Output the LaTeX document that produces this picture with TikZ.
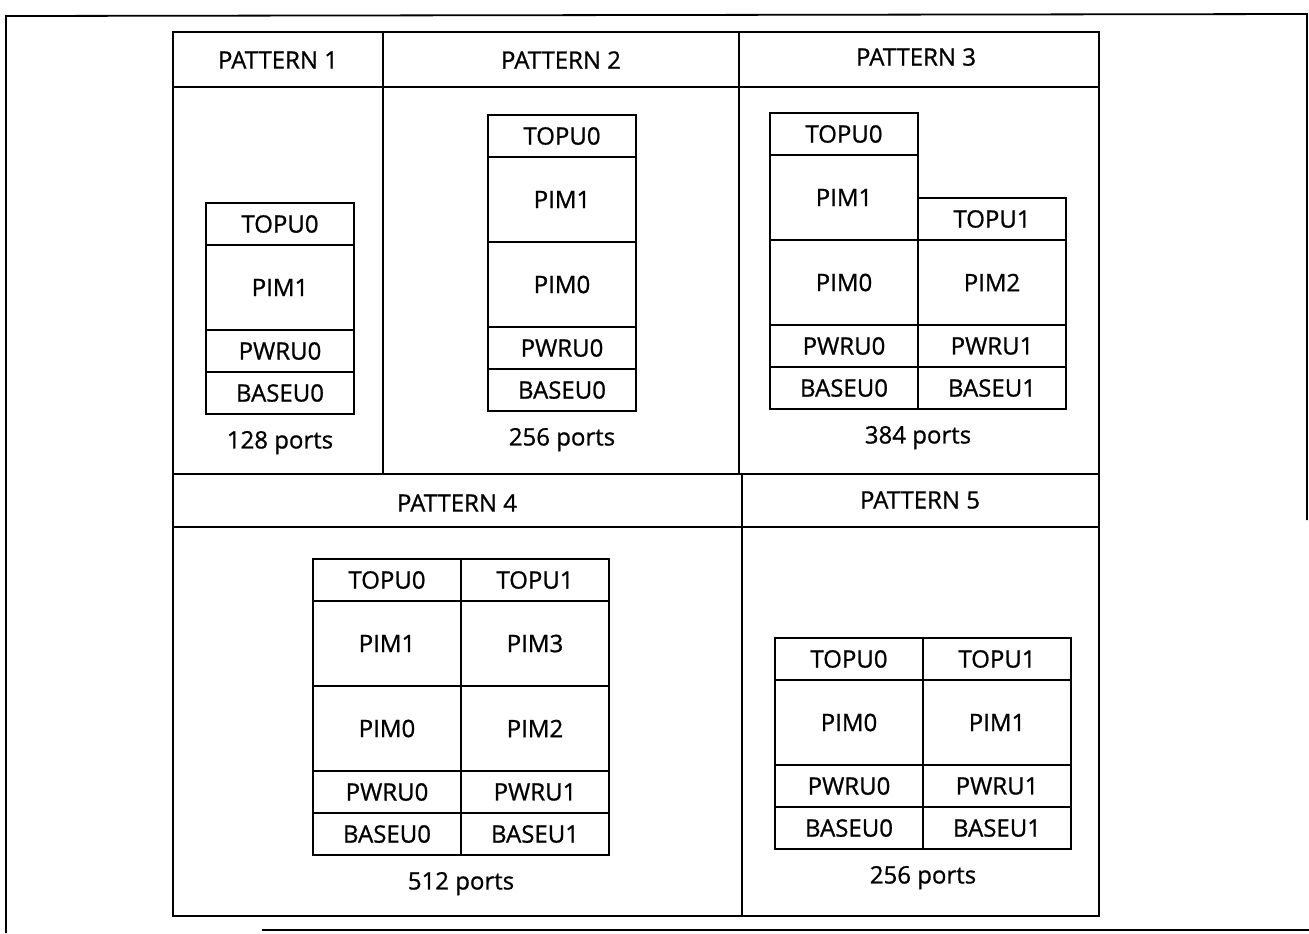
\documentclass[tikz,border=0pt]{standalone}
\usepackage{fontspec}
\setmainfont{Open Sans}[FakeBold=0.9]
\usetikzlibrary{positioning}

\begin{document}
\begin{tikzpicture}[x=0.5pt, y=-0.5pt, node distance=0pt,
    every node/.style={font=\fontsize{12}{14}\selectfont},
    unit/.style={draw, line width=0.9pt, minimum width=74pt, minimum height=21pt, inner sep=0pt, outer sep=0pt},
    pim/.style={unit, minimum height=42.5pt},
    ports/.style={below=5pt of #1}]
  \useasboundingbox (0,0) rectangle (1309,933);
  % page frame
  \draw[line width=0.9pt] (6,933) -- (6,16) -- (1307,14) -- (1307,520);
  \draw[line width=0.9pt] (262,930) -- (1309,930);
  % table
  \draw[line width=1pt] (173,32) rectangle (1099,916);
  \draw[line width=1pt] (173,87) -- (1099,87);
  \draw[line width=1pt] (383,32) -- (383,474);
  \draw[line width=1pt] (739,32) -- (739,474);
  \draw[line width=1pt] (173,474) -- (1099,474);
  \draw[line width=1pt] (173,527) -- (1099,527);
  \draw[line width=1pt] (742,474) -- (742,916);
  \node (h1) at (278,60) {PATTERN 1};
  \node (h2) at (561,60) {PATTERN 2};
  \node (h3) at (916,57) {PATTERN 3};
  \node (h4) at (457,503) {PATTERN 4};
  \node (h5) at (920,500) {PATTERN 5};

  % pattern 1
  \node[unit, anchor=north west] (a-top0) at (206,203) {TOPU0};
  \node[pim, below=of a-top0] (a-pim1) {PIM1};
  \node[unit, below=of a-pim1] (a-pwr0) {PWRU0};
  \node[unit, below=of a-pwr0] (a-base0) {BASEU0};
  \node[ports=a-base0] (a-ports) {128 ports};

  % pattern 2
  \node[unit, anchor=north west] (b-top0) at (488,115) {TOPU0};
  \node[pim, below=of b-top0] (b-pim1) {PIM1};
  \node[pim, below=of b-pim1] (b-pim0) {PIM0};
  \node[unit, below=of b-pim0] (b-pwr0) {PWRU0};
  \node[unit, below=of b-pwr0] (b-base0) {BASEU0};
  \node[ports=b-base0] (b-ports) {256 ports};

  % pattern 3
  \node[unit, anchor=north west] (c-top0) at (770,113) {TOPU0};
  \node[pim, below=of c-top0] (c-pim1) {PIM1};
  \node[pim, below=of c-pim1] (c-pim0) {PIM0};
  \node[unit, below=of c-pim0] (c-pwr0) {PWRU0};
  \node[unit, below=of c-pwr0] (c-base0) {BASEU0};
  \node[pim, right=of c-pim0] (c-pim2) {PIM2};
  \node[unit, above=of c-pim2] (c-top1) {TOPU1};
  \node[unit, right=of c-pwr0] (c-pwr1) {PWRU1};
  \node[unit, right=of c-base0] (c-base1) {BASEU1};
  \node[ports=c-base0.south east] (c-ports) {384 ports};

  % pattern 4
  \node[unit, anchor=north west] (d-top0) at (313,559) {TOPU0};
  \node[pim, below=of d-top0] (d-pim1) {PIM1};
  \node[pim, below=of d-pim1] (d-pim0) {PIM0};
  \node[unit, below=of d-pim0] (d-pwr0) {PWRU0};
  \node[unit, below=of d-pwr0] (d-base0) {BASEU0};
  \node[unit, right=of d-top0] (d-top1) {TOPU1};
  \node[pim, right=of d-pim1] (d-pim3) {PIM3};
  \node[pim, right=of d-pim0] (d-pim2) {PIM2};
  \node[unit, right=of d-pwr0] (d-pwr1) {PWRU1};
  \node[unit, right=of d-base0] (d-base1) {BASEU1};
  \node[ports=d-base0.south east] (d-ports) {512 ports};

  % pattern 5
  \node[unit, anchor=north west] (e-top0) at (775,638) {TOPU0};
  \node[pim, below=of e-top0] (e-pim0) {PIM0};
  \node[unit, below=of e-pim0] (e-pwr0) {PWRU0};
  \node[unit, below=of e-pwr0] (e-base0) {BASEU0};
  \node[unit, right=of e-top0] (e-top1) {TOPU1};
  \node[pim, right=of e-pim0] (e-pim1) {PIM1};
  \node[unit, right=of e-pwr0] (e-pwr1) {PWRU1};
  \node[unit, right=of e-base0] (e-base1) {BASEU1};
  \node[ports=e-base0.south east] (e-ports) {256 ports};
\end{tikzpicture}
\end{document}
